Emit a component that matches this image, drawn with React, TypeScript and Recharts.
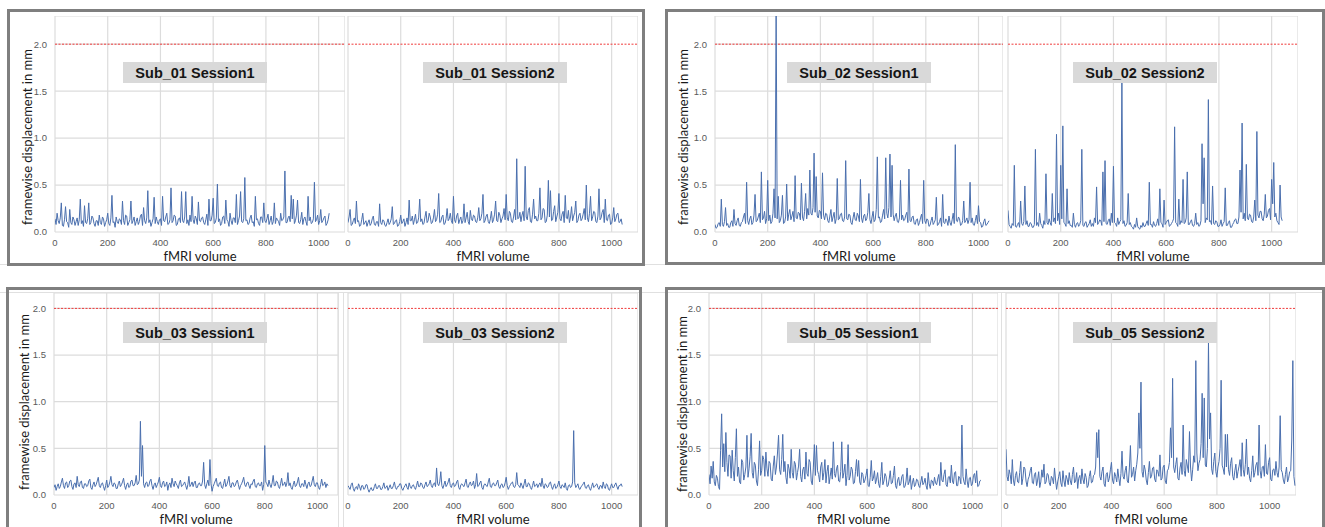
import { LineChart, Line, XAxis, YAxis, CartesianGrid, ReferenceLine } from 'recharts';

// framewise displacement (mm), one value every VOLUME_STEP volumes
const VOLUME_STEP = 4;
const X_TICKS = [0, 200, 400, 600, 800, 1000];
const Y_TICKS = [0, 0.5, 1.0, 1.5, 2.0];
const THRESHOLD_MM = 2.0;

const sub01Session1 = [
  0.14, 0.08, 0.2, 0.12, 0.09, 0.15, 0.31, 0.07, 0.06, 0.13, 0.27, 0.11, 0.1, 0.05, 0.24, 0.1, 0.08, 0.16, 0.13, 0.07,
  0.11, 0.15, 0.07, 0.13, 0.35, 0.09, 0.12, 0.06, 0.28, 0.1, 0.09, 0.14, 0.31, 0.08, 0.1, 0.17, 0.15, 0.09, 0.06, 0.12,
  0.12, 0.07, 0.18, 0.1, 0.08, 0.16, 0.14, 0.06, 0.1, 0.13, 0.2, 0.09, 0.07, 0.15, 0.39, 0.1, 0.11, 0.05, 0.16, 0.11,
  0.09, 0.14, 0.13, 0.08, 0.33, 0.12, 0.08, 0.18, 0.17, 0.07, 0.1, 0.13, 0.33, 0.09, 0.12, 0.16, 0.07, 0.11, 0.15, 0.08,
  0.11, 0.17, 0.19, 0.07, 0.26, 0.12, 0.09, 0.15, 0.44, 0.1, 0.13, 0.06, 0.1, 0.14, 0.37, 0.09, 0.16, 0.11, 0.08, 0.13,
  0.14, 0.07, 0.38, 0.12, 0.11, 0.16, 0.2, 0.08, 0.09, 0.13, 0.47, 0.1, 0.12, 0.18, 0.17, 0.07, 0.08, 0.14, 0.15, 0.1,
  0.43, 0.12, 0.1, 0.16, 0.43, 0.09, 0.13, 0.07, 0.18, 0.11, 0.38, 0.13, 0.09, 0.17, 0.14, 0.08, 0.32, 0.12, 0.11, 0.15,
  0.16, 0.1, 0.08, 0.13, 0.19, 0.07, 0.35, 0.12, 0.12, 0.18, 0.36, 0.09, 0.1, 0.15, 0.51, 0.11, 0.14, 0.07, 0.09, 0.16,
  0.17, 0.09, 0.34, 0.13, 0.11, 0.06, 0.2, 0.12, 0.08, 0.15, 0.15, 0.1, 0.4, 0.08, 0.12, 0.17, 0.43, 0.11, 0.1, 0.14,
  0.58, 0.12, 0.13, 0.08, 0.09, 0.15, 0.18, 0.1, 0.11, 0.06, 0.38, 0.13, 0.14, 0.09, 0.07, 0.16, 0.16, 0.1, 0.31, 0.12,
  0.1, 0.14, 0.19, 0.08, 0.12, 0.17, 0.08, 0.11, 0.31, 0.09, 0.15, 0.13, 0.11, 0.07, 0.2, 0.12, 0.13, 0.16, 0.65, 0.1,
  0.1, 0.15, 0.17, 0.11, 0.39, 0.14, 0.35, 0.09, 0.12, 0.18, 0.34, 0.1, 0.09, 0.13, 0.21, 0.08, 0.14, 0.16, 0.11, 0.07,
  0.38, 0.12, 0.16, 0.09, 0.1, 0.14, 0.53, 0.11, 0.13, 0.18, 0.08, 0.12, 0.24, 0.1, 0.12, 0.15, 0.17, 0.07, 0.09, 0.13,
  0.2,
];

const sub01Session2 = [
  0.1, 0.16, 0.24, 0.07, 0.08, 0.12, 0.15, 0.09, 0.33, 0.11, 0.12, 0.06, 0.07, 0.13, 0.2, 0.08, 0.1, 0.12, 0.06, 0.1,
  0.13, 0.07, 0.09, 0.14, 0.17, 0.08, 0.07, 0.11, 0.11, 0.06, 0.3, 0.1, 0.08, 0.13, 0.12, 0.07, 0.06, 0.1, 0.14, 0.08,
  0.1, 0.14, 0.27, 0.08, 0.09, 0.12, 0.13, 0.06, 0.07, 0.11, 0.18, 0.09, 0.11, 0.14, 0.06, 0.1, 0.15, 0.08, 0.34, 0.12,
  0.12, 0.17, 0.08, 0.13, 0.19, 0.09, 0.1, 0.15, 0.35, 0.11, 0.14, 0.08, 0.09, 0.16, 0.22, 0.1, 0.12, 0.2, 0.16, 0.09,
  0.1, 0.15, 0.24, 0.11, 0.13, 0.19, 0.41, 0.1, 0.11, 0.16, 0.18, 0.08, 0.09, 0.14, 0.25, 0.12, 0.14, 0.2, 0.12, 0.09,
  0.38, 0.13, 0.1, 0.17, 0.2, 0.09, 0.13, 0.16, 0.09, 0.12, 0.3, 0.1, 0.15, 0.21, 0.11, 0.08, 0.23, 0.14, 0.12, 0.18,
  0.17, 0.11, 0.1, 0.15, 0.26, 0.12, 0.14, 0.2, 0.4, 0.1, 0.12, 0.17, 0.19, 0.11, 0.09, 0.14, 0.22, 0.1, 0.13, 0.19,
  0.33, 0.12, 0.11, 0.21, 0.18, 0.1, 0.14, 0.17, 0.25, 0.13, 0.4, 0.15, 0.12, 0.22, 0.2, 0.11, 0.1, 0.16, 0.24, 0.13,
  0.78, 0.14, 0.15, 0.21, 0.11, 0.18, 0.22, 0.12, 0.7, 0.16, 0.13, 0.23, 0.26, 0.11, 0.1, 0.19, 0.35, 0.14, 0.17, 0.12,
  0.12, 0.2, 0.47, 0.13, 0.15, 0.25, 0.24, 0.1, 0.11, 0.18, 0.55, 0.16, 0.44, 0.12, 0.13, 0.22, 0.28, 0.11, 0.16, 0.21,
  0.41, 0.14, 0.12, 0.19, 0.22, 0.1, 0.39, 0.15, 0.14, 0.23, 0.1, 0.16, 0.27, 0.12, 0.17, 0.21, 0.33, 0.1, 0.12, 0.18,
  0.2, 0.12, 0.14, 0.19, 0.25, 0.13, 0.5, 0.15, 0.11, 0.2, 0.38, 0.12, 0.16, 0.22, 0.21, 0.11, 0.1, 0.17, 0.46, 0.13,
  0.15, 0.21, 0.24, 0.1, 0.35, 0.13, 0.12, 0.18, 0.19, 0.08, 0.09, 0.15, 0.26, 0.11, 0.14, 0.19, 0.2, 0.1, 0.11, 0.14,
  0.08,
];

const sub02Session1 = [
  0.08, 0.04, 0.05, 0.09, 0.1, 0.06, 0.35, 0.08, 0.06, 0.11, 0.26, 0.07, 0.09, 0.05, 0.05, 0.1, 0.12, 0.06, 0.24, 0.09,
  0.07, 0.12, 0.15, 0.07, 0.06, 0.1, 0.11, 0.16, 0.2, 0.09, 0.53, 0.12, 0.08, 0.14, 0.17, 0.08, 0.1, 0.18, 0.4, 0.11,
  0.12, 0.16, 0.2, 0.1, 0.64, 0.13, 0.15, 0.22, 0.09, 0.14, 0.55, 0.12, 0.18, 0.09, 0.11, 0.2, 0.46, 0.15, 2.4, 0.14,
  0.38, 0.1, 0.12, 0.18, 0.39, 0.09, 0.1, 0.16, 0.51, 0.12, 0.19, 0.24, 0.13, 0.17, 0.22, 0.11, 0.6, 0.15, 0.14, 0.21,
  0.2, 0.13, 0.52, 0.16, 0.12, 0.22, 0.41, 0.14, 0.25, 0.18, 0.66, 0.2, 0.18, 0.26, 0.84, 0.21, 0.59, 0.17, 0.15, 0.23,
  0.22, 0.14, 0.63, 0.18, 0.13, 0.2, 0.19, 0.12, 0.1, 0.17, 0.24, 0.11, 0.16, 0.21, 0.09, 0.14, 0.57, 0.13, 0.14, 0.19,
  0.2, 0.12, 0.11, 0.16, 0.76, 0.14, 0.13, 0.19, 0.18, 0.1, 0.08, 0.15, 0.21, 0.13, 0.12, 0.2, 0.17, 0.11, 0.56, 0.15,
  0.1, 0.17, 0.19, 0.12, 0.14, 0.21, 0.41, 0.13, 0.09, 0.16, 0.22, 0.11, 0.13, 0.24, 0.8, 0.15, 0.16, 0.1, 0.11, 0.18,
  0.24, 0.14, 0.79, 0.2, 0.15, 0.26, 0.83, 0.16, 0.71, 0.19, 0.12, 0.17, 0.2, 0.11, 0.1, 0.15, 0.55, 0.13, 0.18, 0.12,
  0.13, 0.18, 0.21, 0.1, 0.67, 0.12, 0.11, 0.16, 0.17, 0.09, 0.08, 0.13, 0.14, 0.07, 0.1, 0.15, 0.19, 0.09, 0.55, 0.12,
  0.09, 0.14, 0.13, 0.06, 0.07, 0.12, 0.16, 0.08, 0.1, 0.13, 0.37, 0.07, 0.08, 0.11, 0.15, 0.06, 0.4, 0.1, 0.09, 0.14,
  0.12, 0.07, 0.17, 0.1, 0.07, 0.13, 0.2, 0.09, 0.93, 0.12, 0.11, 0.16, 0.14, 0.07, 0.08, 0.12, 0.33, 0.1, 0.12, 0.15,
  0.09, 0.13, 0.53, 0.1, 0.15, 0.08, 0.07, 0.12, 0.18, 0.09, 0.28, 0.11, 0.1, 0.05, 0.06, 0.11, 0.14, 0.07, 0.08, 0.1,
  0.12,
];

const sub02Session2 = [
  0.23, 0.08, 0.06, 0.04, 0.09, 0.07, 0.71, 0.06, 0.05, 0.08, 0.1, 0.05, 0.33, 0.09, 0.07, 0.11, 0.49, 0.08, 0.12, 0.06,
  0.06, 0.1, 0.09, 0.05, 0.05, 0.08, 0.88, 0.07, 0.1, 0.06, 0.2, 0.09, 0.07, 0.04, 0.12, 0.08, 0.62, 0.1, 0.08, 0.14,
  0.1, 0.07, 0.41, 0.11, 0.15, 0.09, 1.04, 0.12, 0.2, 0.08, 0.71, 0.14, 1.13, 0.1, 0.09, 0.06, 0.46, 0.09, 0.12, 0.07,
  0.07, 0.05, 0.2, 0.08, 0.05, 0.09, 0.1, 0.06, 0.08, 0.12, 0.88, 0.07, 0.06, 0.1, 0.11, 0.05, 0.07, 0.09, 0.13, 0.06,
  0.09, 0.06, 0.15, 0.1, 0.48, 0.08, 0.1, 0.13, 0.12, 0.07, 0.64, 0.11, 0.76, 0.09, 0.08, 0.12, 0.14, 0.07, 0.2, 0.1,
  0.7, 0.1, 0.09, 0.06, 0.15, 0.08, 0.11, 0.13, 1.59, 0.09, 0.12, 0.06, 0.07, 0.1, 0.41, 0.08, 0.1, 0.06, 0.05, 0.03,
  0.08, 0.05, 0.15, 0.06, 0.04, 0.03, 0.07, 0.05, 0.1, 0.06, 0.06, 0.09, 0.12, 0.07, 0.53, 0.08, 0.08, 0.05, 0.11, 0.07,
  0.06, 0.09, 0.14, 0.07, 0.46, 0.1, 0.09, 0.05, 0.34, 0.08, 0.1, 0.12, 0.13, 0.06, 0.07, 0.09, 0.11, 0.14, 1.12, 0.1,
  0.09, 0.06, 0.35, 0.08, 0.12, 0.1, 0.56, 0.09, 0.1, 0.15, 0.64, 0.08, 0.08, 0.11, 0.13, 0.07, 0.06, 0.09, 0.2, 0.08,
  0.1, 0.06, 0.07, 0.12, 0.94, 0.3, 0.79, 0.1, 0.15, 0.13, 1.41, 0.11, 0.12, 0.08, 0.49, 0.09, 0.08, 0.12, 0.11, 0.06,
  0.06, 0.08, 0.13, 0.06, 0.09, 0.11, 0.47, 0.07, 0.07, 0.1, 0.12, 0.05, 0.05, 0.08, 0.1, 0.13, 0.14, 0.09, 0.09, 0.16,
  0.66, 0.21, 1.16, 0.14, 0.2, 0.12, 0.72, 0.15, 0.13, 0.19, 0.18, 0.11, 0.1, 0.16, 0.34, 0.12, 1.07, 0.18, 0.15, 0.22,
  0.22, 0.14, 0.12, 0.19, 0.4, 0.15, 0.17, 0.23, 0.25, 0.13, 0.56, 0.3, 0.74, 0.16, 0.2, 0.12, 0.1, 0.08, 0.5, 0.16,
  0.12,
];

const sub03Session1 = [
  0.08, 0.11, 0.05, 0.09, 0.12, 0.07, 0.09, 0.14, 0.18, 0.1, 0.07, 0.13, 0.14, 0.08, 0.1, 0.15, 0.16, 0.09, 0.06, 0.12,
  0.13, 0.08, 0.2, 0.11, 0.09, 0.14, 0.15, 0.08, 0.07, 0.12, 0.12, 0.09, 0.1, 0.15, 0.17, 0.08, 0.06, 0.11, 0.14, 0.09,
  0.11, 0.15, 0.19, 0.1, 0.08, 0.12, 0.13, 0.09, 0.05, 0.1, 0.16, 0.08, 0.1, 0.14, 0.2, 0.11, 0.09, 0.13, 0.12, 0.07,
  0.07, 0.12, 0.15, 0.09, 0.11, 0.14, 0.18, 0.1, 0.06, 0.11, 0.13, 0.08, 0.09, 0.15, 0.16, 0.1, 0.1, 0.13, 0.21, 0.11,
  0.12, 0.16, 0.79, 0.2, 0.53, 0.12, 0.08, 0.13, 0.14, 0.09, 0.1, 0.15, 0.17, 0.1, 0.06, 0.11, 0.13, 0.08, 0.11, 0.14,
  0.19, 0.1, 0.08, 0.13, 0.15, 0.09, 0.1, 0.14, 0.05, 0.11, 0.13, 0.08, 0.18, 0.12, 0.09, 0.15, 0.12, 0.1, 0.07, 0.13,
  0.16, 0.09, 0.1, 0.12, 0.14, 0.1, 0.06, 0.11, 0.2, 0.09, 0.11, 0.14, 0.09, 0.13, 0.15, 0.08, 0.08, 0.12, 0.13, 0.1,
  0.1, 0.15, 0.35, 0.11, 0.07, 0.12, 0.16, 0.1, 0.38, 0.12, 0.04, 0.09, 0.12, 0.15, 0.18, 0.1, 0.09, 0.13, 0.14, 0.08,
  0.07, 0.12, 0.17, 0.09, 0.11, 0.15, 0.2, 0.1, 0.08, 0.13, 0.13, 0.09, 0.1, 0.14, 0.16, 0.11, 0.06, 0.1, 0.12, 0.15,
  0.19, 0.11, 0.09, 0.13, 0.14, 0.1, 0.07, 0.12, 0.11, 0.15, 0.17, 0.09, 0.08, 0.12, 0.13, 0.1, 0.1, 0.14, 0.05, 0.11,
  0.53, 0.14, 0.12, 0.09, 0.16, 0.11, 0.08, 0.13, 0.21, 0.1, 0.1, 0.15, 0.14, 0.09, 0.07, 0.12, 0.18, 0.1, 0.11, 0.14,
  0.09, 0.13, 0.24, 0.1, 0.13, 0.08, 0.06, 0.11, 0.15, 0.09, 0.1, 0.14, 0.19, 0.1, 0.08, 0.12, 0.12, 0.09, 0.16, 0.11,
  0.07, 0.12, 0.14, 0.09, 0.1, 0.15, 0.2, 0.11, 0.09, 0.13, 0.13, 0.08, 0.06, 0.11, 0.17, 0.1, 0.11, 0.14, 0.08, 0.12,
  0.1,
];

const sub03Session2 = [
  0.1, 0.08, 0.06, 0.11, 0.13, 0.07, 0.04, 0.08, 0.09, 0.06, 0.12, 0.09, 0.05, 0.1, 0.1, 0.06, 0.07, 0.11, 0.11, 0.06,
  0.03, 0.06, 0.08, 0.05, 0.05, 0.09, 0.12, 0.07, 0.07, 0.1, 0.1, 0.06, 0.06, 0.09, 0.13, 0.07, 0.08, 0.1, 0.05, 0.08,
  0.11, 0.07, 0.07, 0.1, 0.14, 0.08, 0.06, 0.09, 0.09, 0.12, 0.12, 0.07, 0.05, 0.08, 0.1, 0.12, 0.08, 0.06, 0.13, 0.09,
  0.07, 0.1, 0.11, 0.08, 0.06, 0.1, 0.15, 0.09, 0.09, 0.13, 0.12, 0.08, 0.07, 0.11, 0.14, 0.09, 0.1, 0.12, 0.16, 0.1,
  0.08, 0.12, 0.13, 0.09, 0.29, 0.12, 0.1, 0.14, 0.25, 0.1, 0.07, 0.11, 0.15, 0.09, 0.11, 0.14, 0.18, 0.1, 0.08, 0.12,
  0.13, 0.09, 0.1, 0.14, 0.16, 0.08, 0.06, 0.11, 0.12, 0.1, 0.09, 0.13, 0.17, 0.09, 0.08, 0.12, 0.14, 0.1, 0.11, 0.15,
  0.07, 0.11, 0.23, 0.09, 0.1, 0.13, 0.15, 0.08, 0.06, 0.11, 0.12, 0.1, 0.09, 0.14, 0.18, 0.09, 0.08, 0.12, 0.13, 0.1,
  0.1, 0.13, 0.16, 0.09, 0.07, 0.11, 0.12, 0.08, 0.09, 0.13, 0.19, 0.1, 0.06, 0.09, 0.11, 0.13, 0.14, 0.09, 0.08, 0.11,
  0.24, 0.11, 0.1, 0.08, 0.13, 0.1, 0.07, 0.12, 0.17, 0.09, 0.09, 0.13, 0.12, 0.08, 0.06, 0.1, 0.15, 0.09, 0.1, 0.12,
  0.08, 0.11, 0.13, 0.09, 0.18, 0.1, 0.07, 0.12, 0.11, 0.08, 0.09, 0.13, 0.14, 0.09, 0.06, 0.1, 0.12, 0.07, 0.08, 0.11,
  0.15, 0.09, 0.07, 0.11, 0.1, 0.08, 0.13, 0.07, 0.05, 0.1, 0.11, 0.08, 0.09, 0.14, 0.69, 0.13, 0.08, 0.1, 0.12, 0.07,
  0.06, 0.09, 0.1, 0.12, 0.14, 0.08, 0.07, 0.1, 0.11, 0.07, 0.05, 0.09, 0.13, 0.08, 0.09, 0.11, 0.12, 0.08, 0.06, 0.1,
  0.1, 0.07, 0.14, 0.09, 0.07, 0.12, 0.11, 0.06, 0.05, 0.09, 0.12, 0.08, 0.08, 0.11, 0.13, 0.09, 0.06, 0.1, 0.1, 0.12,
  0.09,
];

const sub05Session1 = [
  0.22, 0.12, 0.31, 0.18, 0.36, 0.14, 0.1, 0.21, 0.18, 0.09, 0.06, 0.48, 0.87, 0.3, 0.55, 0.25, 0.67, 0.35, 0.2, 0.43,
  0.42, 0.18, 0.48, 0.26, 0.15, 0.4, 0.71, 0.2, 0.3, 0.14, 0.12, 0.38, 0.35, 0.16, 0.22, 0.3, 0.64, 0.19, 0.28, 0.41,
  0.66, 0.24, 0.18, 0.35, 0.32, 0.15, 0.1, 0.27, 0.58, 0.21, 0.26, 0.42, 0.38, 0.2, 0.46, 0.28, 0.2, 0.36, 0.34, 0.17,
  0.15, 0.31, 0.42, 0.22, 0.3, 0.45, 0.64, 0.27, 0.22, 0.38, 0.65, 0.25, 0.36, 0.19, 0.12, 0.33, 0.28, 0.18, 0.49, 0.24,
  0.18, 0.36, 0.33, 0.16, 0.24, 0.31, 0.49, 0.2, 0.14, 0.27, 0.3, 0.17, 0.46, 0.23, 0.2, 0.38, 0.35, 0.15, 0.11, 0.29,
  0.54, 0.21, 0.53, 0.26, 0.22, 0.14, 0.3, 0.35, 0.16, 0.24, 0.38, 0.13, 0.25, 0.32, 0.12, 0.2, 0.29, 0.17, 0.57, 0.23,
  0.19, 0.28, 0.32, 0.15, 0.14, 0.25, 0.57, 0.18, 0.24, 0.33, 0.1, 0.21, 0.54, 0.16, 0.2, 0.3, 0.27, 0.12, 0.13, 0.25,
  0.38, 0.2, 0.37, 0.14, 0.11, 0.24, 0.22, 0.13, 0.16, 0.21, 0.28, 0.1, 0.09, 0.19, 0.37, 0.15, 0.18, 0.26, 0.12, 0.17,
  0.24, 0.12, 0.08, 0.2, 0.35, 0.11, 0.15, 0.23, 0.2, 0.09, 0.1, 0.17, 0.26, 0.12, 0.13, 0.21, 0.31, 0.1, 0.07, 0.16,
  0.19, 0.1, 0.12, 0.2, 0.22, 0.08, 0.09, 0.15, 0.29, 0.11, 0.14, 0.21, 0.06, 0.13, 0.18, 0.09, 0.11, 0.17, 0.16, 0.1,
  0.08, 0.14, 0.2, 0.11, 0.13, 0.18, 0.1, 0.06, 0.24, 0.12, 0.07, 0.16, 0.15, 0.1, 0.19, 0.13, 0.11, 0.17, 0.22, 0.1,
  0.35, 0.16, 0.14, 0.22, 0.27, 0.11, 0.09, 0.19, 0.2, 0.13, 0.32, 0.15, 0.12, 0.24, 0.25, 0.1, 0.1, 0.2, 0.18, 0.12,
  0.75, 0.2, 0.14, 0.11, 0.28, 0.15, 0.08, 0.18, 0.19, 0.1, 0.12, 0.21, 0.23, 0.13, 0.26, 0.09, 0.1, 0.15, 0.16,
];

const sub05Session2 = [
  0.49, 0.2, 0.15, 0.27, 0.22, 0.12, 0.38, 0.16, 0.1, 0.21, 0.25, 0.14, 0.13, 0.24, 0.36, 0.11, 0.18, 0.3, 0.28, 0.15,
  0.09, 0.17, 0.2, 0.26, 0.3, 0.13, 0.12, 0.22, 0.24, 0.1, 0.16, 0.25, 0.08, 0.14, 0.27, 0.19, 0.33, 0.12, 0.14, 0.23,
  0.22, 0.13, 0.1, 0.2, 0.18, 0.12, 0.29, 0.16, 0.06, 0.14, 0.2, 0.25, 0.13, 0.09, 0.26, 0.15, 0.09, 0.21, 0.17, 0.11,
  0.24, 0.15, 0.11, 0.22, 0.3, 0.13, 0.15, 0.24, 0.07, 0.18, 0.21, 0.12, 0.28, 0.17, 0.12, 0.23, 0.19, 0.08, 0.1, 0.2,
  0.26, 0.13, 0.14, 0.21, 0.22, 0.3, 0.67, 0.4, 0.7, 0.2, 0.16, 0.25, 0.3, 0.12, 0.09, 0.22, 0.24, 0.14, 0.18, 0.27,
  0.35, 0.16, 0.12, 0.24, 0.2, 0.14, 0.28, 0.18, 0.1, 0.23, 0.47, 0.2, 0.17, 0.26, 0.31, 0.15, 0.13, 0.29, 0.53, 0.19,
  0.22, 0.3, 0.15, 0.26, 0.33, 0.45, 0.88, 0.5, 1.21, 0.25, 0.19, 0.32, 0.27, 0.16, 0.11, 0.24, 0.36, 0.18, 0.2, 0.29,
  0.3, 0.17, 0.14, 0.27, 0.25, 0.2, 0.43, 0.16, 0.18, 0.3, 0.32, 0.15, 0.12, 0.26, 0.28, 0.35, 0.72, 0.4, 1.25, 0.3,
  0.24, 0.33, 0.4, 0.18, 0.16, 0.29, 0.35, 0.22, 0.75, 0.26, 0.2, 0.38, 0.31, 0.24, 0.68, 0.3, 0.15, 0.27, 0.42, 0.35,
  1.44, 0.45, 0.26, 0.34, 0.38, 0.55, 1.09, 0.4, 1.04, 0.32, 0.3, 0.5, 1.64, 0.6, 0.88, 0.28, 0.22, 0.36, 0.45, 0.25,
  0.19, 0.3, 0.36, 0.5, 1.23, 0.32, 0.28, 0.22, 0.65, 0.3, 0.65, 0.27, 0.21, 0.34, 0.4, 0.2, 0.16, 0.26, 0.33, 0.18,
  0.25, 0.31, 0.38, 0.2, 0.56, 0.27, 0.2, 0.33, 0.6, 0.22, 0.3, 0.18, 0.14, 0.26, 0.42, 0.19, 0.24, 0.32, 0.35, 0.21,
  0.75, 0.26, 0.18, 0.3, 0.31, 0.2, 0.54, 0.23, 0.22, 0.35, 0.4, 0.17, 0.15, 0.27, 0.28, 0.21, 0.36, 0.24, 0.19, 0.3,
  0.85, 0.27, 0.24, 0.16, 0.12, 0.22, 0.3, 0.14, 0.18, 0.25, 0.26, 0.6, 1.44, 0.2, 0.1,
];

const toRows = (values: number[]) => values.map((fd, i) => ({ volume: i * VOLUME_STEP, fd }));

// page layout (pixels)
const PANELS = [
  {
    box: { left: 7, top: 9, width: 638, height: 257 },
    plotTop: 16, plotHeight: 216, yMax: 2.3, yLabel: { x: 27, y: 137 },
    subplots: [
      { title: 'Sub_01 Session1', values: sub01Session1, plotLeft: 54.5, plotWidth: 290, xMax: 1100, titleLeft: 123, titleTop: 62 },
      { title: 'Sub_01 Session2', values: sub01Session2, plotLeft: 348.3, plotWidth: 290, xMax: 1100, titleLeft: 423, titleTop: 62 },
    ],
  },
  {
    box: { left: 665, top: 9, width: 660, height: 256 },
    plotTop: 16, plotHeight: 216, yMax: 2.3, yLabel: { x: 683, y: 137 },
    subplots: [
      { title: 'Sub_02 Session1', values: sub02Session1, plotLeft: 715, plotWidth: 288, xMax: 1093, titleLeft: 787, titleTop: 62 },
      { title: 'Sub_02 Session2', values: sub02Session2, plotLeft: 1008.3, plotWidth: 290, xMax: 1100, titleLeft: 1073, titleTop: 62 },
    ],
  },
  {
    box: { left: 6, top: 287, width: 636, height: 260 },
    plotTop: 293, plotHeight: 202, yMax: 2.165, yLabel: { x: 24, y: 402 },
    subplots: [
      { title: 'Sub_03 Session1', values: sub03Session1, plotLeft: 54.3, plotWidth: 284, xMax: 1078, titleLeft: 123, titleTop: 322 },
      { title: 'Sub_03 Session2', values: sub03Session2, plotLeft: 348.3, plotWidth: 290, xMax: 1100, titleLeft: 423, titleTop: 322 },
    ],
  },
  {
    box: { left: 665, top: 287, width: 660, height: 260 },
    plotTop: 293, plotHeight: 202, yMax: 2.165, yLabel: { x: 682, y: 404 },
    subplots: [
      { title: 'Sub_05 Session1', values: sub05Session1, plotLeft: 709, plotWidth: 289, xMax: 1097, titleLeft: 787, titleTop: 322 },
      { title: 'Sub_05 Session2', values: sub05Session2, plotLeft: 1006, plotWidth: 290, xMax: 1100, titleLeft: 1073, titleTop: 322 },
    ],
  },
];

const TICK_STYLE = { fontSize: 9.5, fill: '#5a5a5a', fontFamily: 'Liberation Sans, Arial, sans-serif' };
const LABEL_FONT = 'Lato, "Open Sans", sans-serif';

function FdPlot({ values, plotLeft, plotTop, plotWidth, plotHeight, xMax, yMax, showYAxis }: any) {
  const yAxisWidth = showYAxis ? 40 : 0;
  const leftPad = showYAxis ? 0 : 8; // room for the "0" tick label
  const xAxisHeight = 31;
  return (
    <div style={{ position: 'absolute', left: plotLeft - yAxisWidth - leftPad, top: plotTop }}>
      <LineChart
        width={plotWidth + yAxisWidth + leftPad}
        height={plotHeight + xAxisHeight}
        data={toRows(values)}
        margin={{ top: 0, right: 0, bottom: 0, left: leftPad }}
      >
        <CartesianGrid stroke="#dcdcdc" strokeWidth={1.2} />
        <XAxis
          dataKey="volume"
          type="number"
          domain={[0, xMax]}
          ticks={X_TICKS}
          interval={0}
          allowDataOverflow
          axisLine={false}
          tickSize={0}
          tickMargin={7}
          tick={TICK_STYLE}
          height={xAxisHeight}
          label={{ value: 'fMRI volume', position: 'insideBottom', offset: 2, fontSize: 13, fill: '#1a1a1a', fontFamily: LABEL_FONT }}
        />
        <YAxis
          type="number"
          domain={[0, yMax]}
          ticks={Y_TICKS}
          interval={0}
          allowDataOverflow
          width={yAxisWidth}
          axisLine={false}
          tickSize={0}
          tickMargin={8}
          tick={showYAxis ? TICK_STYLE : false}
          tickFormatter={(v: number) => v.toFixed(1)}
        />
        <ReferenceLine y={THRESHOLD_MM} stroke="#f03a3a" strokeWidth={1} strokeDasharray="2 1.5" />
        <Line
          type="linear"
          dataKey="fd"
          stroke="#4a6fae"
          strokeWidth={1}
          dot={false}
          isAnimationActive={false}
        />
      </LineChart>
    </div>
  );
}

const faint = '#e0e0e0';

export default function App() {
  return (
    <div style={{ position: 'absolute', left: 0, top: 0, width: 1325, height: 527, overflow: 'hidden', background: '#fff' }}>
      {/* faint separators between the pasted panels */}
      <div style={{ position: 'absolute', left: 0, top: 264, width: 1325, height: 1, background: faint }} />
      <div style={{ position: 'absolute', left: 0, top: 292, width: 1325, height: 1, background: faint }} />
      <div style={{ position: 'absolute', left: 338, top: 292, width: 1, height: 240, background: faint }} />
      <div style={{ position: 'absolute', left: 343, top: 292, width: 1, height: 240, background: faint }} />
      <div style={{ position: 'absolute', left: 1001, top: 292, width: 1, height: 240, background: faint }} />

      {PANELS.map((panel, p) => (
        <div key={p}>
          {panel.subplots.map((sp, s) => (
            <FdPlot
              key={s}
              values={sp.values}
              plotLeft={sp.plotLeft}
              plotTop={panel.plotTop}
              plotWidth={sp.plotWidth}
              plotHeight={panel.plotHeight}
              xMax={sp.xMax}
              yMax={panel.yMax}
              showYAxis={s === 0}
            />
          ))}
          {panel.subplots.map((sp, s) => (
            <div
              key={`t${s}`}
              style={{
                position: 'absolute',
                left: sp.titleLeft,
                top: sp.titleTop,
                width: 144,
                height: 21,
                background: '#d9d9d9',
                display: 'flex',
                alignItems: 'center',
                justifyContent: 'center',
                fontFamily: 'Liberation Sans, Arial, sans-serif',
                fontWeight: 'bold',
                fontSize: 14.5,
                color: '#151515',
              }}
            >
              {sp.title}
            </div>
          ))}
          <div
            style={{
              position: 'absolute',
              left: panel.yLabel.x,
              top: panel.yLabel.y,
              transform: 'translate(-50%, -50%) rotate(-90deg)',
              whiteSpace: 'nowrap',
              fontFamily: LABEL_FONT,
              fontSize: 13,
              color: '#1a1a1a',
            }}
          >
            framewise displacement in mm
          </div>
          <div
            style={{
              position: 'absolute',
              left: panel.box.left,
              top: panel.box.top,
              width: panel.box.width,
              height: panel.box.height,
              border: '3px solid #7f7f7f',
              boxSizing: 'border-box',
            }}
          />
        </div>
      ))}
    </div>
  );
}
